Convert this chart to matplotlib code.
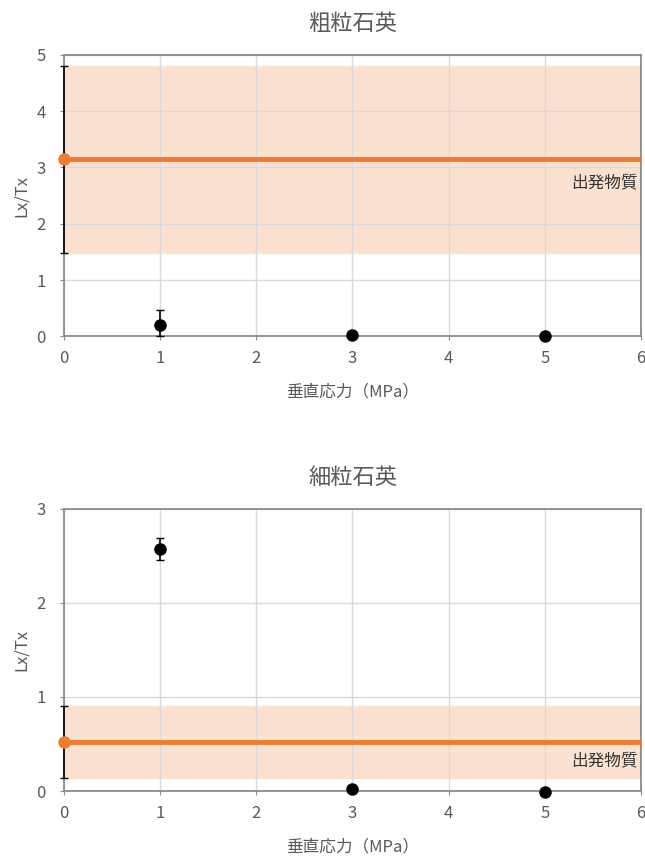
import matplotlib.pyplot as plt

plt.rcParams['font.family'] = ['Noto Sans CJK JP', 'DejaVu Sans']

# データ
titulos = ['粗粒石英', '細粒石英']
tensao = [1, 3, 5]
lx_tx = [[0.2, 0.03, 0.0], [2.57, 0.02, -0.01]]
erro_inf = [[0.2, 0.0, 0.0], [0.11, 0.0, 0.0]]
erro_sup = [[0.27, 0.0, 0.0], [0.12, 0.0, 0.0]]
material = [3.15, 0.52]       # 出発物質
material_min = [1.48, 0.14]
material_max = [4.8, 0.9]
y_max = [5, 3]

cinza = '#595959'
laranja = '#ed7d31'

fig = plt.figure(figsize=(6.45, 8.58), dpi=100)
posicoes = [[0.099, 0.608, 0.895, 0.328], [0.099, 0.078, 0.895, 0.329]]

for k in range(2):
    ax = fig.add_axes(posicoes[k])
    ax.axhspan(material_min[k], material_max[k], color='#fbe1cf', zorder=0)
    ax.axhline(material[k], color=laranja, lw=3.5, zorder=3)
    ax.errorbar([0], [material[k]],
                yerr=[[material[k] - material_min[k]], [material_max[k] - material[k]]],
                fmt='o', color=laranja, ecolor='black', elinewidth=1.2,
                capsize=3, ms=8, zorder=4, clip_on=False)
    ax.errorbar(tensao, lx_tx[k], yerr=[erro_inf[k], erro_sup[k]], fmt='o',
                color='black', ecolor='black', elinewidth=1.2, capsize=3,
                ms=8, zorder=5, clip_on=False)
    ax.text(5.96, material[k] - (0.42 if k == 0 else 0.2), '出発物質',
            ha='right', va='center', fontsize=12, color='#333333')
    ax.set_xlim(0, 6)
    ax.set_ylim(0, y_max[k])
    ax.set_yticks(range(y_max[k] + 1))
    ax.grid(True, color='#d9d9d9', lw=1)
    ax.set_axisbelow(True)
    for s in ax.spines.values():
        s.set_color('#8c8c8c')
        s.set_linewidth(1.3)
    ax.tick_params(colors='#8c8c8c', labelcolor=cinza, labelsize=12, length=3)
    ax.tick_params(axis='y', pad=10)
    ax.tick_params(axis='x', pad=7)
    ax.set_title(titulos[k], fontsize=16, color=cinza, pad=18)
    ax.set_xlabel('垂直応力（MPa）', fontsize=12, color=cinza, labelpad=12)
    ax.set_ylabel('Lx/Tx', fontsize=12, color=cinza, labelpad=5)

fig.savefig('out.png', dpi=100)
